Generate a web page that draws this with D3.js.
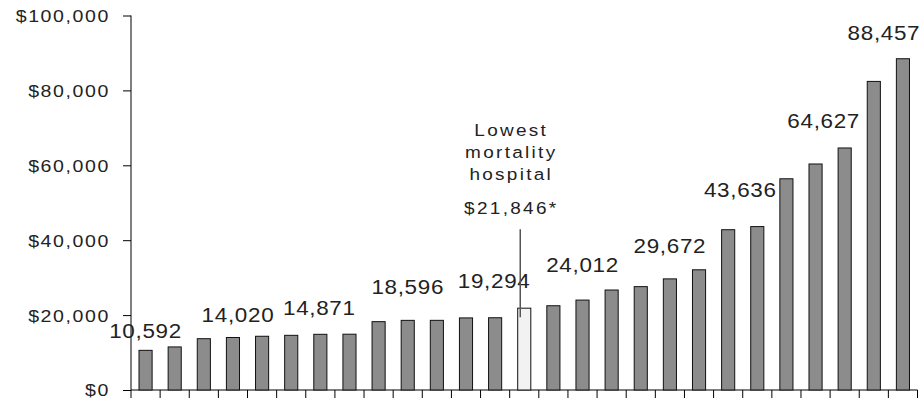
<!DOCTYPE html>
<html>
<head>
<meta charset="utf-8">
<script src="https://cdn.jsdelivr.net/npm/d3@7"></script>
<style>
  body { margin: 0; background: #fff; }
  text { font-family: "Liberation Sans", Arial, sans-serif; fill: #222; }
</style>
</head>
<body>
<script>
// data (costs per hospital, sorted)
const hospitals = d3.range(1, 28).map(i => "H" + i);
const costs = [10592, 11500, 13700, 14020, 14350, 14600, 14871, 14900, 18250,
               18596, 18600, 19250, 19294, 21846, 22500, 24012, 26700, 27600,
               29672, 32100, 42800, 43636, 56400, 60350, 64627, 82400, 88457];
const highlightIndex = 13;
const labelledIndex = [0, 3, 6, 9, 12, 15, 18, 21, 24, 26];
const yTicks = [0, 20000, 40000, 60000, 80000, 100000];
const noteLines = ["Lowest", "mortality", "hospital"];

// dimensions
const dms = {
  width: 923,
  height: 404,
  margins: { top: 15.5, right: 5, bottom: 14, left: 131 }
};
dms.innerWidth = dms.width - dms.margins.left - dms.margins.right;
dms.innerHeight = dms.height - dms.margins.top - dms.margins.bottom;

// the original text is drawn a bit wide
const stretch = 1.15;

const svg = d3.select("body").append("svg")
  .attr("width", dms.width)
  .attr("height", dms.height);

const g = svg.append("g")
  .attr("transform", `translate(${dms.margins.left},${dms.margins.top})`);

// scales
const xScale = d3.scaleBand()
  .domain(hospitals)
  .range([0, dms.innerWidth - 0.5])
  .paddingInner(0.55)
  .paddingOuter(0.275);

const yScale = d3.scaleLinear()
  .domain([0, 100000])
  .range([dms.innerHeight, 0]);

// axes
const yAxis = d3.axisLeft(yScale)
  .tickValues(yTicks)
  .tickSize(8)
  .tickFormat(d => "$" + d3.format(",")(d));

const yG = g.append("g").call(yAxis);
yG.select(".domain").attr("d", `M0,0V${dms.innerHeight}`);
yG.selectAll("line").attr("stroke", "#000");
yG.selectAll("text")
  .attr("x", -21 / stretch)
  .attr("transform", `scale(${stretch},1)`)
  .attr("font-size", 17)
  .attr("letter-spacing", 1.4)
  .attr("dy", "0.35em")
  .style("font-family", "'Liberation Sans', Arial, sans-serif")
  .attr("fill", "#222");

// x axis: ticks at band boundaries
const boundaries = d3.range(hospitals.length + 1).map(i => i * xScale.step());
const xG = g.append("g").attr("transform", `translate(0,${dms.innerHeight})`);
xG.append("line")
  .attr("x1", 0).attr("x2", dms.innerWidth - 0.5)
  .attr("stroke", "#000");
xG.selectAll(".tick")
  .data(boundaries)
  .join("line")
    .attr("class", "tick")
    .attr("x1", d => d).attr("x2", d => d)
    .attr("y1", 0).attr("y2", 8)
    .attr("stroke", "#000");

// bars
g.selectAll("rect.bar")
  .data(costs)
  .join("rect")
    .attr("class", "bar")
    .attr("x", (d, i) => xScale(hospitals[i]))
    .attr("y", d => yScale(d))
    .attr("width", xScale.bandwidth())
    .attr("height", d => dms.innerHeight - yScale(d))
    .attr("fill", (d, i) => i === highlightIndex ? "#f2f2f2" : "#8c8c8c")
    .attr("stroke", "#111")
    .attr("stroke-width", 1);

// value labels, nudged like the original
const nudge = {
  0: [0, -12], 3: [5, -15], 6: [-1, -19], 9: [0, -26], 12: [-1, -30],
  15: [0, -28], 18: [0, -26], 21: [-17, -30], 24: [-21, -20], 26: [-19, -19]
};
g.selectAll("text.value")
  .data(labelledIndex)
  .join("text")
    .attr("class", "value")
    .attr("transform", i => `translate(${xScale(hospitals[i]) + xScale.bandwidth() / 2 + nudge[i][0]},${yScale(costs[i]) + nudge[i][1]}) scale(${stretch},1)`)
    .attr("text-anchor", "middle")
    .attr("font-size", 19.5)
    .attr("letter-spacing", 0.6)
    .text(i => d3.format(",")(costs[i]));

// annotation for the lowest mortality hospital
const hx = xScale(hospitals[highlightIndex]) + xScale.bandwidth() / 2;
const hy = yScale(costs[highlightIndex]);
g.append("line")
  .attr("x1", hx - 4).attr("x2", hx - 4)
  .attr("y1", hy - 79)
  .attr("y2", hy + 9)
  .attr("stroke", "#555")
  .attr("stroke-width", 1.5);

const noteText = noteLines.concat(["$" + d3.format(",")(costs[highlightIndex]) + "*"]);
const noteY = [-172, -150, -128, -94];
g.selectAll("text.note")
  .data(noteText)
  .join("text")
    .attr("class", "note")
    .attr("transform", (d, i) => `translate(${hx - 13},${hy + noteY[i]}) scale(${stretch},1)`)
    .attr("text-anchor", "middle")
    .attr("font-size", 16.5)
    .attr("letter-spacing", 2)
    .text(d => d);
</script>
</body>
</html>
